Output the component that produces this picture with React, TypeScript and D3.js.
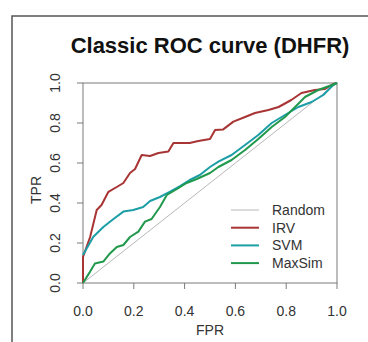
import * as d3 from 'd3'
import React from 'react'

type Pt = [number, number]

const ticks = [0, 0.2, 0.4, 0.6, 0.8, 1.0]

const irv: Pt[] = [
  [0, 0], [0, 0.13], [0.028, 0.23], [0.054, 0.365], [0.073, 0.39], [0.1, 0.456],
  [0.133, 0.48], [0.159, 0.5], [0.185, 0.55], [0.205, 0.57], [0.231, 0.64],
  [0.264, 0.635], [0.297, 0.65], [0.336, 0.657], [0.356, 0.7], [0.42, 0.7],
  [0.454, 0.71], [0.5, 0.72], [0.52, 0.765], [0.552, 0.768], [0.592, 0.807],
  [0.638, 0.83], [0.677, 0.85], [0.73, 0.865], [0.77, 0.88], [0.82, 0.915],
  [0.86, 0.95], [0.913, 0.965], [0.953, 0.97], [0.985, 0.995], [1, 1]
]

const svm: Pt[] = [
  [0, 0.14], [0.04, 0.23], [0.08, 0.28], [0.12, 0.32], [0.159, 0.357],
  [0.198, 0.365], [0.237, 0.38], [0.264, 0.41], [0.303, 0.43], [0.343, 0.457],
  [0.382, 0.485], [0.42, 0.515], [0.46, 0.54], [0.5, 0.58], [0.533, 0.607],
  [0.585, 0.64], [0.638, 0.69], [0.69, 0.74], [0.743, 0.8], [0.795, 0.84],
  [0.848, 0.88], [0.9, 0.905], [0.946, 0.94], [0.985, 0.99], [1, 1]
]

const maxsim: Pt[] = [
  [0, 0], [0.028, 0.057], [0.047, 0.098], [0.08, 0.107], [0.106, 0.148],
  [0.133, 0.18], [0.159, 0.19], [0.185, 0.23], [0.218, 0.257], [0.244, 0.307],
  [0.27, 0.32], [0.303, 0.38], [0.33, 0.44], [0.37, 0.47], [0.408, 0.5],
  [0.448, 0.52], [0.5, 0.55], [0.533, 0.58], [0.585, 0.615], [0.638, 0.665],
  [0.69, 0.72], [0.743, 0.78], [0.795, 0.83], [0.835, 0.88], [0.874, 0.93],
  [0.926, 0.965], [0.98, 0.99], [1, 1]
]

const randomLine: Pt[] = [[0, 0], [1, 1]]

const series = [
  { name: 'Random', data: randomLine, color: '#b8b8b8', width: 1 },
  { name: 'IRV', data: irv, color: '#a83434', width: 2 },
  { name: 'SVM', data: svm, color: '#1c9ea6', width: 2 },
  { name: 'MaxSim', data: maxsim, color: '#21994c', width: 2 }
]

const font = '"Liberation Sans", Arial, Helvetica, sans-serif'

export default function App() {
  const width = 368
  const height = 342
  const x = d3.scaleLinear().domain([0, 1]).range([83, 337])
  const y = d3.scaleLinear().domain([0, 1]).range([283, 83])
  const line = d3.line<Pt>().x(d => x(d[0])).y(d => y(d[1]))
  const fmt = d3.format('.1f')
  const axisColor = '#7a7a7a'
  const textColor = '#333'

  return (
    <svg width={width} height={height}
      style={{ position: 'absolute', left: 0, top: 0, background: '#fff' }}
      fontFamily={font}>
      {/* outer panel frame */}
      <path d={`M12,${height} V16 H${width}`} fill="none" stroke="#555" strokeWidth={1.5} />

      <text x={210} y={53} textAnchor="middle" fontSize={22} fontWeight="bold" fill="#111">
        Classic ROC curve (DHFR)
      </text>

      {/* plot box */}
      <rect x={x(0)} y={y(1)} width={x(1) - x(0)} height={y(0) - y(1)}
        fill="none" stroke={axisColor} strokeWidth={1} />

      {/* x axis ticks */}
      {ticks.map(t => (
        <g key={'x' + t}>
          <line x1={x(t)} x2={x(t)} y1={y(0)} y2={y(0) + 6} stroke={axisColor} />
          <text x={x(t)} y={316} textAnchor="middle" fontSize={14} fill={textColor}>{fmt(t)}</text>
        </g>
      ))}
      <text x={210} y={335} textAnchor="middle" fontSize={14} fill={textColor}>FPR</text>

      {/* y axis ticks */}
      {ticks.map(t => (
        <g key={'y' + t}>
          <line x1={x(0) - 6} x2={x(0)} y1={y(t)} y2={y(t)} stroke={axisColor} />
          <text transform={`translate(60,${y(t)}) rotate(-90)`} textAnchor="middle"
            fontSize={14} fill={textColor}>{fmt(t)}</text>
        </g>
      ))}
      <text transform={`translate(41,190) rotate(-90)`} textAnchor="middle"
        fontSize={14} fill={textColor}>TPR</text>

      {/* curves */}
      {series.map(s => (
        <path key={s.name} d={line(s.data) ?? ''} fill="none" stroke={s.color}
          strokeWidth={s.width} strokeLinejoin="round" />
      ))}

      {/* legend */}
      {series.map((s, i) => {
        const ly = 210 + i * 17.7
        return (
          <g key={'lg' + s.name}>
            <line x1={231} x2={259} y1={ly} y2={ly} stroke={s.color} strokeWidth={s.width} />
            <text x={272} y={ly + 5} fontSize={14} fill={textColor}>{s.name}</text>
          </g>
        )
      })}
    </svg>
  )
}
